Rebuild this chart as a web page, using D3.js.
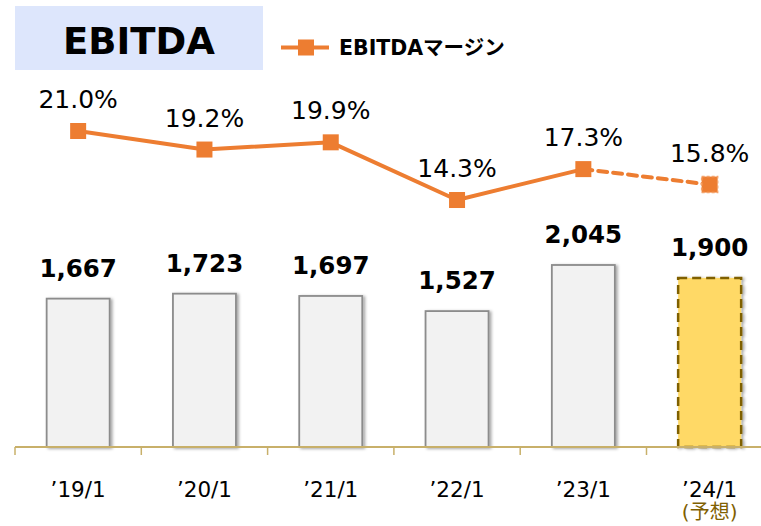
<!DOCTYPE html>
<html><head><meta charset="utf-8">
<script src="https://cdn.jsdelivr.net/npm/d3@7"></script>
<style>
html,body{margin:0;padding:0;background:#fff;}
svg{display:block;}
text{font-family:"DejaVu Sans","Noto Sans CJK JP",sans-serif;}
</style></head>
<body>
<svg id="chart" width="761" height="526"></svg>
<script>
const categories = ["’19/1","’20/1","’21/1","’22/1","’23/1","’24/1"];
const ebitda = [1667, 1723, 1697, 1527, 2045, 1900];
const margin = [21.0, 19.2, 19.9, 14.3, 17.3, 15.8];
const forecastIndex = 5;
const forecastNote = "(予想)";
const title = "EBITDA";
const legendLabel = "EBITDAマージン";

const svg = d3.select("#chart");
const defs = svg.append("defs");
const f = defs.append("filter").attr("id","shadow").attr("x","-20%").attr("y","-20%").attr("width","150%").attr("height","150%");
f.append("feDropShadow").attr("dx",2).attr("dy",1).attr("stdDeviation",1.5).attr("flood-color","#000").attr("flood-opacity",0.35);

const x = d3.scaleBand().domain(categories).range([15, 15 + 6*126.3]).paddingInner(0).paddingOuter(0);
const yBar = d3.scaleLinear().domain([0, 2500]).range([447, 224.5]);
const yPct = d3.scaleLinear().domain([0, 25]).range([347.3, 89.8]);
const barW = 63;
const orange = "#ed7d31";

// title box
svg.append("rect").attr("x",15).attr("y",6).attr("width",248).attr("height",64).attr("fill","#dde6fc");
svg.append("text").attr("x",139).attr("y",54).attr("text-anchor","middle")
  .attr("font-size",37).attr("font-weight","bold").attr("fill","#000").text(title);

// legend
svg.append("line").attr("x1",281).attr("x2",329).attr("y1",47.5).attr("y2",47.5).attr("stroke",orange).attr("stroke-width",4);
svg.append("rect").attr("x",298).attr("y",39.5).attr("width",16).attr("height",16).attr("fill",orange);
svg.append("text").attr("x",339).attr("y",55).attr("font-size",20.5).attr("font-weight","bold").attr("fill","#000").text(legendLabel);

// bars
const cx = c => x(c) + x.bandwidth()/2;
svg.append("g").selectAll("rect").data(categories).join("rect")
  .attr("x", c => cx(c) - barW/2)
  .attr("y", (c,i) => yBar(ebitda[i]))
  .attr("width", barW)
  .attr("height", (c,i) => yBar(0) - yBar(ebitda[i]))
  .attr("fill", (c,i) => i === forecastIndex ? "#ffd966" : "#f2f2f2")
  .attr("stroke", (c,i) => i === forecastIndex ? "#7f6000" : "#8c8c8c")
  .attr("stroke-width", (c,i) => i === forecastIndex ? 2.5 : 1.8)
  .attr("stroke-dasharray", (c,i) => i === forecastIndex ? "9,5" : null)
  .attr("filter","url(#shadow)");

// bar labels
svg.append("g").selectAll("text").data(categories).join("text")
  .attr("x", c => cx(c))
  .attr("y", (c,i) => yBar(ebitda[i]) - 22)
  .attr("text-anchor","middle").attr("font-size",24.5).attr("font-weight","bold").attr("fill","#000")
  .text((c,i) => d3.format(",")(ebitda[i]));

// axis
const axisColor = "#c8b06a";
svg.append("line").attr("x1",15).attr("x2",761).attr("y1",447).attr("y2",447).attr("stroke",axisColor).attr("stroke-width",2);
svg.append("g").selectAll("line").data(categories).join("line")
  .attr("x1", c => x(c)).attr("x2", c => x(c)).attr("y1",447).attr("y2",455)
  .attr("stroke",axisColor).attr("stroke-width",1.5);
svg.append("g").selectAll("text").data(categories).join("text")
  .attr("x", c => cx(c)).attr("y", 497).attr("text-anchor","middle")
  .attr("font-size",21.5).attr("fill","#000").text(c => c);
svg.append("text").attr("x", cx(categories[forecastIndex])).attr("y", 519).attr("text-anchor","middle")
  .attr("font-size",20).attr("fill","#7f6000").text(forecastNote);

// line
const pts = categories.map((c,i) => [cx(c), yPct(margin[i])]);
const lineGen = d3.line();
svg.append("path").attr("d", lineGen(pts.slice(0, forecastIndex))).attr("fill","none")
  .attr("stroke",orange).attr("stroke-width",4).attr("stroke-linejoin","round");
svg.append("path").attr("d", lineGen(pts.slice(forecastIndex-1))).attr("fill","none")
  .attr("stroke",orange).attr("stroke-width",4).attr("stroke-dasharray","9,6").attr("stroke-linecap","round");
svg.append("g").selectAll("rect").data(pts).join("rect")
  .attr("x", p => p[0]-8).attr("y", p => p[1]-8).attr("width",16).attr("height",16)
  .attr("fill",orange)
  .attr("stroke",(p,i) => i === forecastIndex ? "#f4a36b" : "none")
  .attr("stroke-width",1.5).attr("stroke-dasharray",(p,i) => i === forecastIndex ? "3,2" : null);
svg.append("g").selectAll("text").data(pts).join("text")
  .attr("x", p => p[0]).attr("y", p => p[1] - 23)
  .attr("text-anchor","middle").attr("font-size",25).attr("fill","#000")
  .text((p,i) => margin[i].toFixed(1) + "%");
</script>
</body></html>
